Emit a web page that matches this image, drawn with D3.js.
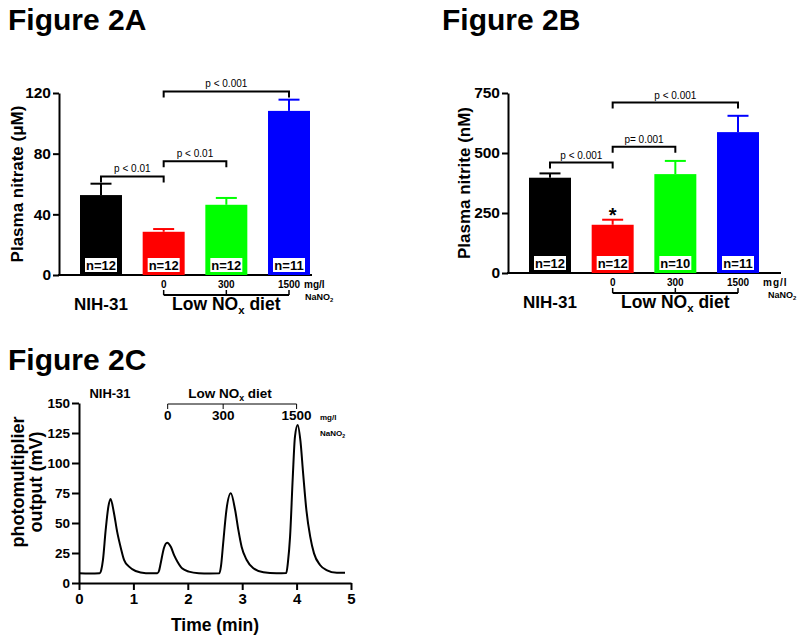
<!DOCTYPE html>
<html>
<head>
<meta charset="utf-8">
<script src="https://cdn.jsdelivr.net/npm/d3@7"></script>
<style>
  body { margin: 0; background: #fff; }
  svg { font-family: 'Liberation Sans', Arial, sans-serif; }
</style>
</head>
<body>
<script>
// Figure 2 — plasma nitrate / nitrite bars + chemiluminescence trace

const groups = ['NIH-31', '0', '300', '1500'];
const barColors = ['#000000', '#ff0000', '#00ff00', '#0000ff'];

// 2A — plasma nitrate (µM)
const nitrateMean = [52.7, 28.5, 46.3, 108.2];
const nitrateSem = [7.5, 1.8, 4.5, 7.4];
const nitrateN = [12, 12, 12, 11];
const nitrateTicks = [0, 40, 80, 120];
const nitrateSig = [
  { a: 0, b: 1, y: 65, label: 'p < 0.01' },
  { a: 1, b: 2, y: 75, label: 'p < 0.01' },
  { a: 1, b: 3, y: 121, label: 'p < 0.001' },
];

// 2B — plasma nitrite (nM)
const nitriteMean = [397, 201, 412, 587];
const nitriteSem = [18, 21, 55, 68];
const nitriteN = [12, 12, 10, 11];
const nitriteTicks = [0, 250, 500, 750];
const nitriteSig = [
  { a: 0, b: 1, y: 460, label: 'p < 0.001' },
  { a: 1, b: 2, y: 526, label: 'p= 0.001' },
  { a: 1, b: 3, y: 710, label: 'p < 0.001' },
];

// 2C — photomultiplier trace (min, mV)
const traceT = [0, 0.2, 0.38, 0.41, 0.44, 0.49, 0.54, 0.58, 0.64, 0.70, 0.77, 0.83, 0.92, 1.04, 1.23,
  1.44, 1.47, 1.50, 1.56, 1.62, 1.69, 1.75, 1.81, 1.90, 2.02, 2.2, 2.4,
  2.58, 2.61, 2.65, 2.71, 2.79, 2.87, 2.93, 2.99, 3.08, 3.2, 3.39, 3.63,
  3.81, 3.84, 3.88, 3.93, 3.97, 4.02, 4.07, 4.12, 4.18, 4.25, 4.32, 4.43, 4.55, 4.74, 4.89];
const traceV = [8.2, 8.0, 8.2, 11, 19, 44, 63.6, 70, 59, 43, 29, 19, 13.6, 10, 8.2,
  8.1, 10, 16, 29, 33.6, 30, 23, 17.8, 12, 9.5, 8.2, 8.0,
  8.1, 14, 33, 60.8, 74.7, 60.8, 44, 30, 19.4, 12.5, 9, 8.1,
  8.3, 17, 38.6, 88.6, 122, 131.7, 118.6, 91.4, 60.8, 38.6, 24.7, 15, 10.8, 8.5, 8.5];
const traceXTicks = [0, 1, 2, 3, 4, 5];
const traceYTicks = [0, 25, 50, 75, 100, 125, 150];
const doseT = [1.63, 2.65, 4.0];
const doseLabels = ['0', '300', '1500'];

const svg = d3.select('body').append('svg').attr('width', 800).attr('height', 639);

function title(x, y, t) {
  svg.append('text').attr('x', x).attr('y', y).attr('font-size', 30).attr('font-weight', 'bold').text(t);
}

function lowNox(g, x, y, size) {
  const t = g.append('text').attr('x', x).attr('y', y).attr('text-anchor', 'middle')
    .attr('font-size', size).attr('font-weight', 'bold');
  t.append('tspan').text('Low NO');
  t.append('tspan').attr('font-size', size * 0.65).attr('dy', size * 0.25).text('x');
  t.append('tspan').attr('dy', -size * 0.25).text(' diet');
}

function nano2(g, x, y, size) {
  const t = g.append('text').attr('x', x).attr('y', y).attr('font-size', size).attr('font-weight', 'bold');
  t.append('tspan').text('NaNO');
  t.append('tspan').attr('font-size', size * 0.65).attr('dy', size * 0.25).text('2');
}

/** Bar panel: bars, SEM, n-boxes, brackets, dose axis */
function barPanel(o) {
  const g = svg.append('g');
  const x = d3.scaleBand().domain(groups).range([o.x0, o.x1]).paddingInner(0.33).paddingOuter(0);
  const y = d3.scaleLinear().domain([0, o.ticks[o.ticks.length - 1]]).range([o.yb, o.yt]);
  const bw = x.bandwidth();

  // y axis
  const ya = g.append('g').attr('transform', `translate(${o.ax},0)`)
    .call(d3.axisLeft(y).tickValues(o.ticks).tickSize(6).tickSizeOuter(0).tickPadding(2));
  ya.selectAll('path, line').attr('stroke', '#000').attr('stroke-width', 2);
  ya.selectAll('text').attr('font-size', 15.5).attr('font-weight', 'bold').attr('fill', '#000')
    .attr('font-family', 'Liberation Sans, Arial, sans-serif');

  // x axis line
  g.append('line').attr('x1', o.ax - 1).attr('x2', o.xEnd).attr('y1', o.yb).attr('y2', o.yb)
    .attr('stroke', '#000').attr('stroke-width', 2);

  groups.forEach((k, i) => {
    const cx = x(k) + bw / 2, col = barColors[i];
    const top = y(o.mean[i]), et = y(o.mean[i] + o.sem[i]);
    g.append('line').attr('x1', cx).attr('x2', cx).attr('y1', top).attr('y2', et)
      .attr('stroke', col).attr('stroke-width', 2);
    g.append('line').attr('x1', cx - bw / 4).attr('x2', cx + bw / 4).attr('y1', et).attr('y2', et)
      .attr('stroke', col).attr('stroke-width', 2);
    g.append('rect').attr('x', x(k)).attr('y', top).attr('width', bw).attr('height', o.yb - top).attr('fill', col);
    g.append('rect').attr('x', x(k) + 5).attr('y', o.yb - 17).attr('width', bw - 10).attr('height', 14).attr('fill', '#fff');
    g.append('text').attr('x', cx).attr('y', o.yb - 5).attr('text-anchor', 'middle')
      .attr('font-size', 13).attr('font-weight', 'bold').text('n=' + o.n[i]);
  });

  // significance brackets
  o.sig.forEach(s => {
    const xa = x(groups[s.a]) + bw / 2, xb = x(groups[s.b]) + bw / 2, yy = y(s.y);
    g.append('path').attr('d', `M${xa},${yy + 6}V${yy}H${xb}V${yy + 6}`)
      .attr('fill', 'none').attr('stroke', '#000').attr('stroke-width', 2);
    g.append('text').attr('x', (xa + xb) / 2).attr('y', yy - 4).attr('text-anchor', 'middle')
      .attr('font-size', 10).text(s.label);
  });

  if (o.star) {
    const cx = x(groups[1]) + bw / 2;
    g.append('text').attr('x', cx).attr('y', y(o.mean[1] + o.sem[1]) + 2).attr('text-anchor', 'middle')
      .attr('font-size', 20).attr('font-weight', 'bold').text('*');
  }

  // dose labels + bracket
  const dx = groups.slice(1).map(k => x(k) + bw / 2);
  groups.slice(1).forEach((k, i) => {
    g.append('text').attr('x', dx[i]).attr('y', o.yb + 13).attr('text-anchor', 'middle')
      .attr('font-size', 10).attr('font-weight', 'bold').text(k);
    g.append('line').attr('x1', dx[i]).attr('x2', dx[i]).attr('y1', o.yb + 15).attr('y2', o.yb + 20)
      .attr('stroke', '#000').attr('stroke-width', 1.5);
  });
  g.append('line').attr('x1', dx[0]).attr('x2', dx[2]).attr('y1', o.yb + 20).attr('y2', o.yb + 20)
    .attr('stroke', '#000').attr('stroke-width', 2);
  g.append('text').attr('x', o.unitX).attr('y', o.yb + 13).attr('font-size', 10).attr('font-weight', 'bold')
    .attr('letter-spacing', o.unitLs).text('mg/l');
  nano2(g, o.unitX + o.naDx, o.yb + 25, 9);

  g.append('text').attr('x', x(groups[0]) + bw / 2).attr('y', o.yb + 35).attr('text-anchor', 'middle')
    .attr('font-size', 17).attr('font-weight', 'bold').text('NIH-31');
  lowNox(g, (dx[0] + dx[2]) / 2, o.yb + 35, 17.5);

  g.append('text').attr('transform', `translate(${o.labX},${(o.yb + o.yt) / 2}) rotate(-90)`)
    .attr('text-anchor', 'middle').attr('font-size', 17).attr('font-weight', 'bold').text(o.ylab);
}

title(8, 30, 'Figure 2A');
title(442, 30, 'Figure 2B');
title(8, 370, 'Figure 2C');

barPanel({ x0: 80, x1: 310, ax: 59, xEnd: 312, yb: 275, yt: 93, ticks: nitrateTicks,
  mean: nitrateMean, sem: nitrateSem, n: nitrateN, sig: nitrateSig, labX: 23,
  ylab: 'Plasma nitrate (\u03BCM)', unitX: 304, unitLs: 0, naDx: 1 });
barPanel({ x0: 529, x1: 759, ax: 508, xEnd: 781, yb: 273, yt: 93, ticks: nitriteTicks,
  mean: nitriteMean, sem: nitriteSem, n: nitriteN, sig: nitriteSig, labX: 470, star: true,
  ylab: 'Plasma nitrite (nM)', unitX: 763, unitLs: 1, naDx: 5 });

// ---- 2C trace ----
const gc = svg.append('g');
const xc = d3.scaleLinear().domain([0, 5]).range([79, 351]);
const yc = d3.scaleLinear().domain([0, 150]).range([583, 403]);

const xa = gc.append('g').attr('transform', 'translate(0,583)')
  .call(d3.axisBottom(xc).tickValues(traceXTicks).tickFormat(d3.format('d'))
    .tickSize(7).tickSizeOuter(0).tickPadding(3));
const ya = gc.append('g').attr('transform', 'translate(79,0)')
  .call(d3.axisLeft(yc).tickValues(traceYTicks).tickSize(7).tickSizeOuter(0).tickPadding(2));
[xa, ya].forEach(a => {
  a.selectAll('path, line').attr('stroke', '#000').attr('stroke-width', 2);
  a.selectAll('text').attr('font-size', 13.5).attr('font-weight', 'bold').attr('fill', '#000')
    .attr('font-family', 'Liberation Sans, Arial, sans-serif');
});
xa.selectAll('text').attr('font-size', 15);

gc.append('path').datum(traceT.map((t, i) => [t, traceV[i]]))
  .attr('d', d3.line().x(d => xc(d[0])).y(d => yc(d[1])).curve(d3.curveMonotoneX))
  .attr('fill', 'none').attr('stroke', '#000').attr('stroke-width', 2);

gc.append('text').attr('x', 215).attr('y', 631).attr('text-anchor', 'middle')
  .attr('font-size', 17.5).attr('font-weight', 'bold').text('Time (min)');
gc.append('text').attr('transform', 'translate(24,482) rotate(-90)').attr('text-anchor', 'middle')
  .attr('font-size', 18).attr('font-weight', 'bold').text('photomultiplier');
gc.append('text').attr('transform', 'translate(42,482) rotate(-90)').attr('text-anchor', 'middle')
  .attr('font-size', 18).attr('font-weight', 'bold').text('output (mV)');

gc.append('text').attr('x', 110).attr('y', 398).attr('text-anchor', 'middle')
  .attr('font-size', 13).attr('font-weight', 'bold').text('NIH-31');
lowNox(gc, 230, 398, 13.5);
const dxc = doseT.map(t => xc(t));
gc.append('line').attr('x1', dxc[0]).attr('x2', dxc[2]).attr('y1', 404).attr('y2', 404)
  .attr('stroke', '#000').attr('stroke-width', 1);
dxc.forEach((px, i) => {
  gc.append('line').attr('x1', px).attr('x2', px).attr('y1', 404).attr('y2', 409)
    .attr('stroke', '#000').attr('stroke-width', 1);
  gc.append('text').attr('x', px).attr('y', 420).attr('text-anchor', 'middle')
    .attr('font-size', 13.5).attr('font-weight', 'bold').text(doseLabels[i]);
});
gc.append('text').attr('x', 320).attr('y', 420).attr('font-size', 8).attr('font-weight', 'bold').text('mg/l');
nano2(gc, 320, 436, 8);
</script>
</body>
</html>
